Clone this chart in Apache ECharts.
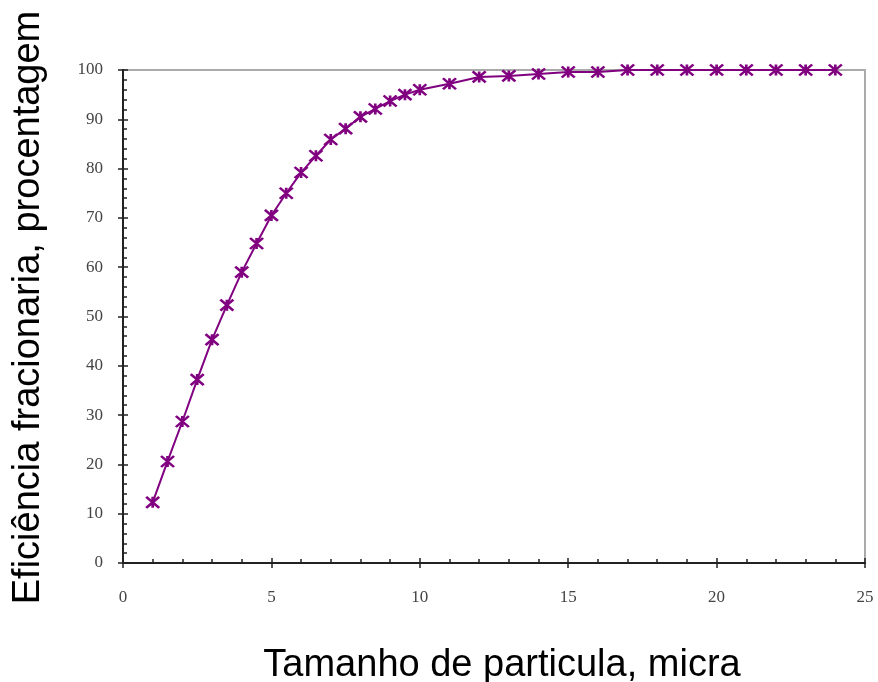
<!DOCTYPE html>
<html>
<head>
<meta charset="utf-8">
<script src="https://cdn.jsdelivr.net/npm/echarts@6/dist/echarts.min.js"></script>
<style>
  html, body { margin: 0; padding: 0; background: #fff; }
  #chart { width: 878px; height: 682px; }
</style>
</head>
<body>
<div id="chart"></div>
<script>
// particle size (micra) and fractional efficiency (%)
const particleSize = [1, 1.5, 2, 2.5, 3, 3.5, 4, 4.5, 5, 5.5, 6, 6.5, 7, 7.5, 8, 8.5, 9, 9.5, 10,
  11, 12, 13, 14, 15, 16, 17, 18, 19, 20, 21, 22, 23, 24]
const efficiency = [12.3, 20.6, 28.7, 37.2, 45.3, 52.3, 59.0, 64.8, 70.5, 75.0, 79.2, 82.6, 85.9, 88.1, 90.5, 92.1, 93.7, 95.0, 96.0,
  97.2, 98.6, 98.8, 99.2, 99.6, 99.6, 100, 100, 100, 100, 100, 100, 100, 100]

const xTitle = 'Tamanho de particula, micra'
const yTitle = 'Eficiência fracionaria, procentagem'

const chart = echarts.init(document.getElementById('chart'))

const axisLine = { show: true, lineStyle: { color: '#222', width: 2 } }
const labelStyle = { fontFamily: 'Liberation Serif', fontSize: 17, color: '#444' }

const option = {
  animation: false,
  grid: {
    left: 123, right: 13, top: 70, bottom: 119,
    outerBoundsMode: 'none', containLabel: false,
    show: true, borderColor: '#aaa', borderWidth: 2,
  },
  xAxis: [
    {
      type: 'value', min: 0, max: 25, interval: 5,
      axisLine: axisLine,
      axisTick: { show: true, length: 5, lineStyle: { color: '#222', width: 1.5 } },
      axisLabel: Object.assign({ margin: 26 }, labelStyle),
      splitLine: { show: false },
      name: xTitle, nameLocation: 'middle', nameGap: 84,
      nameTextStyle: { fontFamily: 'Liberation Sans', fontSize: 38, color: '#000', padding: [0, 0, 0, 16] },
    },
    {
      type: 'value', min: 0, max: 25, interval: 5, position: 'bottom',
      axisLine: axisLine,
      axisTick: { show: true, inside: true, length: 5, lineStyle: { color: '#222', width: 1.5 } },
      minorTick: { show: true, splitNumber: 5, length: 4, lineStyle: { color: '#222', width: 1.5 } },
      axisLabel: { show: false },
      splitLine: { show: false },
    },
  ],
  yAxis: [
    {
      type: 'value', min: 0, max: 100, interval: 10,
      axisLine: axisLine,
      axisTick: { show: true, length: 5, lineStyle: { color: '#222', width: 1.5 } },
      axisLabel: Object.assign({ margin: 20 }, labelStyle),
      splitLine: { show: false },
      name: yTitle, nameLocation: 'middle', nameGap: 75,
      nameTextStyle: { fontFamily: 'Liberation Sans', fontSize: 38, color: '#000', padding: [0, 0, 0, 18] },
    },
    {
      type: 'value', min: 0, max: 100, interval: 10, position: 'left',
      axisLine: axisLine,
      axisTick: { show: true, inside: true, length: 5, lineStyle: { color: '#222', width: 1.5 } },
      minorTick: { show: true, splitNumber: 5, length: 4, lineStyle: { color: '#222', width: 1.5 } },
      axisLabel: { show: false },
      splitLine: { show: false },
    },
  ],
  series: [
    {
      type: 'line',
      data: particleSize.map((x, i) => [x, efficiency[i]]),
      lineStyle: { color: '#800080', width: 2 },
      symbol: 'path://M0,0 L12,10 M12,0 L0,10 M6,0 L6,10',
      symbolSize: [13, 11],
      itemStyle: { color: 'none', borderColor: '#800080', borderWidth: 2.5 },
      z: 5,
    },
  ],
}

chart.setOption(option)
</script>
</body>
</html>
